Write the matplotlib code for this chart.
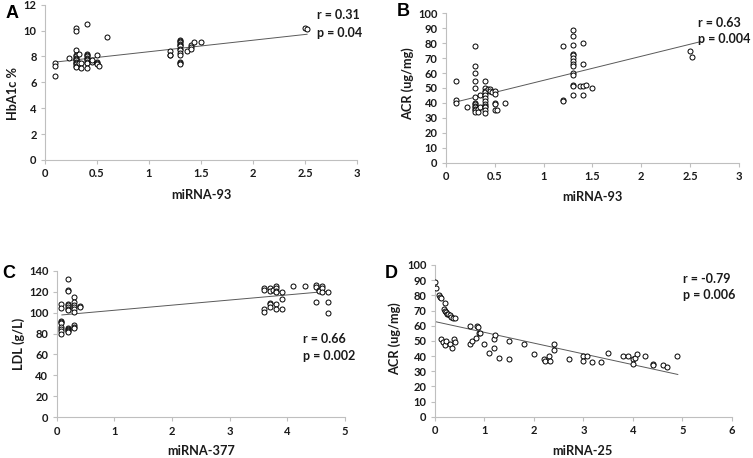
import matplotlib
matplotlib.use("Agg")
import matplotlib.pyplot as plt
import numpy as np

plt.rcParams['font.family'] = ['Lato', 'DejaVu Sans']

# ---------------- Panel A: HbA1c vs miRNA-93 ----------------
a_x = [0.1, 0.1, 0.1, 0.23,
       0.3, 0.3, 0.3, 0.3, 0.3, 0.3, 0.3, 0.3, 0.3, 0.3, 0.3, 0.3, 0.3,
       0.33, 0.33, 0.35, 0.35,
       0.4, 0.4, 0.4, 0.4, 0.4, 0.4, 0.4, 0.4, 0.4, 0.4,
       0.45, 0.45, 0.5, 0.5, 0.5, 0.5, 0.52, 0.6,
       1.2, 1.2, 1.2,
       1.3, 1.3, 1.3, 1.3, 1.3, 1.3, 1.3, 1.3, 1.3, 1.3, 1.3, 1.3, 1.3,
       1.37, 1.4, 1.4, 1.4, 1.43, 1.5, 2.5, 2.52]
a_y = [7.5, 7.3, 6.5, 7.9,
       10.2, 10.0, 8.5, 8.1, 8.0, 7.9, 7.8, 7.7, 7.6, 7.5, 7.4, 7.3, 7.2,
       8.2, 7.5, 7.5, 7.1,
       10.5, 8.2, 8.1, 8.0, 7.9, 7.8, 7.7, 7.6, 7.5, 7.1,
       7.6, 7.7, 8.1, 7.6, 7.5, 7.4, 7.3, 9.5,
       8.4, 8.1, 8.1,
       9.3, 9.2, 9.1, 9.0, 8.9, 8.8, 8.6, 8.5, 8.3, 8.1, 7.6, 7.5, 7.4,
       8.4, 8.9, 8.7, 8.6, 9.1, 9.1, 10.2, 10.1]
a_fit = [7.48, 0.888]          # intercept, slope
a_fit_range = [0.1, 2.52]
a_stats = ["r = 0.31", "p = 0.04"]

# ---------------- Panel B: ACR vs miRNA-93 ----------------
b_x = [0.1, 0.1, 0.1, 0.22,
       0.3, 0.3, 0.3, 0.3, 0.3, 0.3, 0.3, 0.3, 0.3, 0.3, 0.3, 0.3, 0.3,
       0.33, 0.33, 0.35, 0.35,
       0.4, 0.4, 0.4, 0.4, 0.4, 0.4, 0.4, 0.4, 0.4, 0.4, 0.4, 0.4,
       0.43, 0.45, 0.45, 0.47,
       0.5, 0.5, 0.5, 0.5, 0.5, 0.52, 0.6,
       1.2, 1.2, 1.2,
       1.3, 1.3, 1.3, 1.3, 1.3, 1.3, 1.3, 1.3, 1.3, 1.3, 1.3, 1.3, 1.3, 1.3,
       1.37, 1.4, 1.4, 1.4, 1.4, 1.43, 1.5, 2.5, 2.52]
b_y = [55, 42, 40, 37,
       78, 65, 60, 55, 50, 44, 40, 39, 38, 37, 36, 35, 34,
       36, 34, 45, 37,
       55, 50, 48, 47, 45, 43, 41, 39, 38, 37, 35, 33,
       49, 49, 48, 47,
       48, 46, 40, 39, 35, 35, 40,
       78, 42, 41,
       89, 85, 79, 73, 72, 70, 68, 66, 65, 60, 59, 52, 51, 45,
       51, 80, 66, 51, 45, 52, 50, 75, 71]
b_fit = [39.0, 16.1]
b_fit_range = [0.08, 2.61]
b_stats = ["r = 0.63", "p = 0.004"]

# ---------------- Panel C: LDL vs miRNA-377 ----------------
c_x = [0.08] * 9 + [0.2] * 13 + [0.3] * 9 + [0.4, 0.4] + \
      [3.6] * 4 + [3.7] * 5 + [3.75] + [3.8] * 6 + [3.9] * 3 + \
      [4.1, 4.3] + [4.5] * 3 + [4.55] * 2 + [4.6] * 3 + [4.7] * 3
c_y = [108, 104, 92, 91, 90, 86, 84, 82, 80,
       132, 122, 121, 108, 107, 105, 103, 102, 85, 84, 83, 82, 81,
       115, 110, 107, 105, 103, 101, 88, 86, 85,
       106, 105,
       123, 122, 103, 101,
       123, 121, 109, 108, 105,
       122,
       125, 123, 121, 120, 108, 103,
       120, 113, 103,
       125, 125,
       126, 124, 110,
       122, 121,
       125, 123, 120,
       120, 110, 100]
c_fit = [97.3, 4.89]
c_fit_range = [0.09, 4.71]
c_stats = ["r = 0.66", "p = 0.002"]

# ---------------- Panel D: ACR vs miRNA-25 ----------------
d_x = [0.0, 0.02, 0.08, 0.1, 0.12, 0.2, 0.18, 0.2, 0.22, 0.25, 0.27, 0.3, 0.33, 0.37, 0.4,
       0.13, 0.17, 0.2, 0.23, 0.3, 0.35, 0.38, 0.4,
       0.7, 0.7, 0.75, 0.82, 0.85, 0.87, 0.88, 0.9,
       1.0, 1.1, 1.2, 1.2, 1.22, 1.3, 1.5, 1.5,
       1.8, 2.0, 2.2, 2.22, 2.3, 2.33, 2.4, 2.4, 2.7,
       3.0, 3.0, 3.08, 3.17, 3.35, 3.5, 3.8, 3.9, 4.0, 4.0, 4.05, 4.08, 4.25,
       4.4, 4.4, 4.62, 4.7, 4.9]
d_y = [89, 85, 80, 79, 78, 75, 71, 70, 69, 68, 68, 67, 66, 65, 65,
       51, 49, 47, 50, 48, 45, 51, 49,
       60, 48, 50, 52, 60, 59, 55, 55,
       48, 42, 51, 45, 54, 39, 50, 38,
       48, 41, 38, 37, 40, 37, 48, 44, 38,
       40, 37, 40, 36, 36, 42, 40, 40, 38, 35, 39, 41, 40,
       35, 34, 34, 33, 40]
d_fit = [62.7, -7.1]
d_fit_range = [0.02, 4.91]
d_stats = ["r = -0.79", "p = 0.006"]

panels = [
    dict(letter="A", x=a_x, y=a_y, fit=a_fit, rng=a_fit_range, stats=a_stats,
         xlabel="miRNA-93", ylabel="HbA1c %", xlim=(0, 3), xticks=[0, 0.5, 1, 1.5, 2, 2.5, 3],
         xticklabels=["0", "0.5", "1", "1.5", "2", "2.5", "3"],
         ylim=(0, 12), yticks=list(range(0, 13, 2)),
         pos=[0.0598, 0.6507, 0.4143, 0.339],
         stat_xy=(0.872, 0.934, 0.818), xlab=(0.5, -0.225), ylab=(-0.103, 0.43),
         letter_xy=(12, 13)),
    dict(letter="B", x=b_x, y=b_y, fit=b_fit, rng=b_fit_range, stats=b_stats,
         xlabel="miRNA-93", ylabel="ACR (ug/mg)", xlim=(0, 3), xticks=[0, 0.5, 1, 1.5, 2, 2.5, 3],
         xticklabels=["0", "0.5", "1", "1.5", "2", "2.5", "3"],
         ylim=(0, 100), yticks=list(range(0, 101, 10)),
         pos=[0.5923, 0.6448, 0.3887, 0.3262],
         stat_xy=(0.862, 0.933, 0.828), xlab=(0.5, -0.228), ylab=(-0.131, 0.531),
         letter_xy=(403, 12)),
    dict(letter="C", x=c_x, y=c_y, fit=c_fit, rng=c_fit_range, stats=c_stats,
         xlabel="miRNA-377", ylabel="LDL (g/L)", xlim=(0, 5), xticks=[0, 1, 2, 3, 4, 5],
         xticklabels=["0", "1", "2", "3", "4", "5"],
         ylim=(0, 140), yticks=list(range(0, 141, 20)),
         pos=[0.0753, 0.0889, 0.3829, 0.3201],
         stat_xy=(0.853, 0.534, 0.42), xlab=(0.5, -0.228), ylab=(-0.133, 0.5),
         letter_xy=(9, 273)),
    dict(letter="D", x=d_x, y=d_y, fit=d_fit, rng=d_fit_range, stats=d_stats,
         xlabel="miRNA-25", ylabel="ACR (ug/mg)", xlim=(0, 6), xticks=[0, 1, 2, 3, 4, 5, 6],
         xticklabels=["0", "1", "2", "3", "4", "5", "6"],
         ylim=(0, 100), yticks=list(range(0, 101, 10)),
         pos=[0.5777, 0.0902, 0.394, 0.3312],
         stat_xy=(0.837, 0.908, 0.804), xlab=(0.498, -0.224), ylab=(-0.137, 0.512),
         letter_xy=(391, 273)),
]

W, H = 753, 458
fig = plt.figure(figsize=(W / 100, H / 100), dpi=100)
fig.patch.set_facecolor("white")

spine_col = "#bfbfbf"
txt_col = "#1a1a1a"
for p in panels:
    ax = fig.add_axes(p["pos"])
    ax.set_xlim(*p["xlim"])
    ax.set_ylim(*p["ylim"])
    ax.plot(p["x"], p["y"], linestyle="none", marker="o", markersize=3.6,
            markerfacecolor="white", markeredgecolor="black", markeredgewidth=0.7,
            zorder=3)
    fx = np.array(p["rng"])
    ax.plot(fx, p["fit"][0] + p["fit"][1] * fx, color="#595959", linewidth=0.7, zorder=2)
    for side in ("top", "right"):
        ax.spines[side].set_visible(False)
    for side in ("left", "bottom"):
        ax.spines[side].set_color(spine_col)
        ax.spines[side].set_linewidth(0.8)
    ax.set_xticks(p["xticks"])
    ax.set_xticklabels(p["xticklabels"])
    ax.set_yticks(p["yticks"])
    ax.tick_params(axis="both", direction="out", length=3, width=0.8, color=spine_col,
                   labelsize=8, pad=3, labelcolor=txt_col)
    for lab in ax.get_xticklabels() + ax.get_yticklabels():
        lab.set_fontweight("bold")
    ax.set_xlabel(p["xlabel"], fontsize=9.2, fontweight="bold", va="center", color=txt_col)
    ax.xaxis.set_label_coords(*p["xlab"])
    ax.set_ylabel(p["ylabel"], fontsize=9.2, fontweight="bold", va="center", color=txt_col)
    ax.yaxis.set_label_coords(*p["ylab"])
    sx, sy1, sy2 = p["stat_xy"]
    ax.text(sx, sy1, p["stats"][0], transform=ax.transAxes, fontsize=9, fontweight="bold",
            ha="left", va="center", color=txt_col)
    ax.text(sx, sy2, p["stats"][1], transform=ax.transAxes, fontsize=9, fontweight="bold",
            ha="left", va="center", color=txt_col)
    lx, ly = p["letter_xy"]
    fig.text(lx / W, 1 - ly / H, p["letter"], fontsize=13, fontweight="bold",
             family=["Liberation Sans", "DejaVu Sans"], ha="center", va="center")

fig.savefig("out.png", dpi=100, facecolor="white")
